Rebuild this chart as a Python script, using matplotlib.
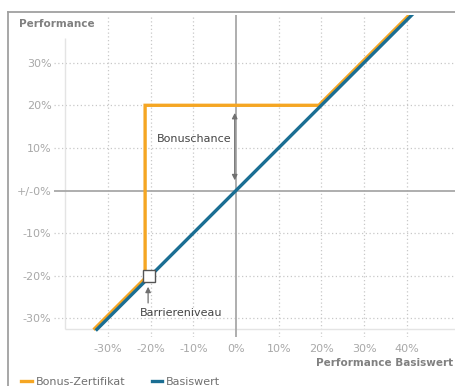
import matplotlib.pyplot as plt
from matplotlib.lines import Line2D

# payoff profiles (performance in %)
basis_x = [-32.6, 41.2]
basis_y = [-32.6, 41.2]
bonus_x = [-33.1, -21.3, -21.3, 19.4, 40.6]
bonus_y = [-32.4, -20.6, 20, 20, 41.2]

barrier = (-20.5, -20)
bonus_level = 20

x_ticks = [-30, -20, -10, 0, 10, 20, 30, 40]
x_labels = ["-30%", "-20%", "-10%", "0%", "10%", "20%", "30%", "40%"]
y_ticks = [-30, -20, -10, 0, 10, 20, 30]
y_labels = ["-30%", "-20%", "-10%", "+/-0%", "10%", "20%", "30%"]

orange = "#f5a623"
blue = "#1a6e93"
grid_col = "#c8c8c8"
label_col = "#a8a8a8"

W, H = 455, 386
fig = plt.figure(figsize=(W / 100, H / 100), dpi=100)

# pixel layout of the plotting area
x0_px, px_x = 236, 4.267
y0_px, px_y = 190.5, 4.26
xmin, xmax = -42.6, 51.3
ymin, ymax = -34.4, 41.2
left = (x0_px + xmin * px_x) / W
right = (x0_px + xmax * px_x) / W
top = 1 - (y0_px - ymax * px_y) / H
bottom = 1 - (y0_px - ymin * px_y) / H
ax = fig.add_axes([left, bottom, right - left, top - bottom])
ax.set_xlim(xmin, xmax)
ax.set_ylim(ymin, ymax)
for s in ax.spines.values():
    s.set_visible(False)

# outer frame (left and top edge only, the rest runs off the canvas)
frame_y = 1 - 12 / H
fig.add_artist(Line2D([8 / W, 8 / W], [0, frame_y], color="#a0a0a0", lw=1.3,
                      transform=fig.transFigure))
fig.add_artist(Line2D([8 / W, 1], [frame_y, frame_y], color="#a0a0a0", lw=1.3,
                      transform=fig.transFigure))

# dotted grid
for y in y_ticks:
    if y != 0:
        ax.hlines(y, xmin, xmax, colors=grid_col, lw=0.9, linestyles=(0, (1, 2)))
for x in x_ticks:
    if x != 0:
        ax.vlines(x, ymin, ymax, colors=grid_col, lw=0.9, linestyles=(0, (1, 2)))

# light frame of the diagram and zero axes
ax.vlines(-40, -32.4, 35.8, colors="#e4e4e4", lw=1)
ax.hlines(-32.4, -40, xmax, colors="#e4e4e4", lw=1)
ax.axhline(0, color="#a8a8a8", lw=1.3)
ax.axvline(0, color="#a8a8a8", lw=1.3)

ax.set_xticks(x_ticks, x_labels)
ax.set_yticks(y_ticks, y_labels)
ax.tick_params(length=0, labelsize=8, labelcolor=label_col)
ax.tick_params(axis="x", pad=5)
ax.tick_params(axis="y", pad=2)

ax.plot(bonus_x, bonus_y, color=orange, lw=2.4, solid_joinstyle="miter")
ax.plot(basis_x, basis_y, color=blue, lw=2.4)
ax.plot(*barrier, marker="s", ms=8, mfc="white", mec="#555555", mew=1)

# annotations
ax.annotate("", xy=(-0.3, bonus_level - 1.8), xytext=(-0.3, 2.4),
            arrowprops=dict(arrowstyle="<|-|>", color="#707070", lw=0.9,
                            mutation_scale=8, shrinkA=0, shrinkB=0))
ax.text(-1.0, 12.1, "Bonuschance", ha="right", va="center",
        fontsize=8, color="#444444")
ax.annotate("", xy=(barrier[0] - 0.1, -22.6), xytext=(barrier[0] - 0.1, -26.4),
            arrowprops=dict(arrowstyle="-|>", color="#707070", lw=0.9,
                            mutation_scale=8, shrinkA=0, shrinkB=0))
ax.text(-12.9, -27.6, "Barriereniveau", ha="center", va="top",
        fontsize=8, color="#444444")

fig.text(19 / W, 1 - 24 / H, "Performance", ha="left", va="center",
         fontsize=7.5, fontweight="bold", color="#808080")
fig.text(453 / W, 1 - 363 / H, "Performance Basiswert", ha="right", va="center",
         fontsize=7.5, fontweight="bold", color="#808080")

# legend
fig.add_artist(Line2D([21 / W, 32 / W], [1 - 381 / H] * 2, color=orange, lw=2.4,
                      transform=fig.transFigure))
fig.text(36 / W, 1 - 382 / H, "Bonus-Zertifikat", ha="left", va="center",
         fontsize=8, color="#707070")
fig.add_artist(Line2D([152 / W, 162 / W], [1 - 381 / H] * 2, color=blue, lw=2.4,
                      transform=fig.transFigure))
fig.text(166 / W, 1 - 382 / H, "Basiswert", ha="left", va="center",
         fontsize=8, color="#707070")

fig.savefig("out.png", dpi=100)
